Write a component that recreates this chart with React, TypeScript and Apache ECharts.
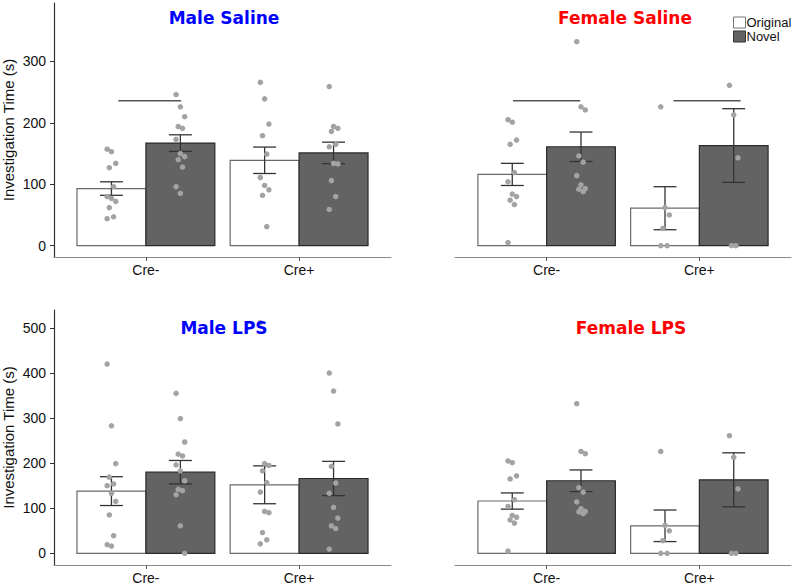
import React, { useEffect, useRef } from 'react';
import * as echarts from 'echarts';

const categories = ['Cre-', 'Cre+'];
const groupNames = ['Original', 'Novel'];
const panelTitles = ['Male Saline', 'Female Saline', 'Male LPS', 'Female LPS'];
const topTicks = [0, 100, 200, 300];
const bottomTicks = [0, 100, 200, 300, 400, 500];

// means [Cre-, Cre+]
const maleSalineOrigMean = [93, 139];
const maleSalineNovelMean = [167, 151];
const maleSalineOrigSE = [11, 21.5];
const maleSalineNovelSE = [13.5, 17.5];

const femaleOrigMean = [116, 61];
const femaleNovelMean = [161, 163];
const femaleOrigSE = [18, 35];
const femaleNovelSE = [24, 60];

const maleLpsOrigMean = [138, 152];
const maleLpsNovelMean = [180, 166];
const maleLpsOrigSE = [32, 42];
const maleLpsNovelSE = [26, 38];

// individual points
const maleSalineOrigCreMinus = [157, 153, 134, 127, 96, 80, 77, 72, 62, 47, 44];
const maleSalineNovelCreMinus = [246, 226, 210, 194, 191, 173, 150, 145, 140, 128, 96, 85];
const maleSalineOrigCrePlus = [266, 239, 198, 179, 149, 111, 98, 91, 82, 31];
const maleSalineNovelCrePlus = [259, 194, 191, 186, 165, 161, 134, 133, 106, 80, 59];

const femaleOrigCreMinus = [205, 201, 172, 165, 119, 104, 84, 80, 74, 67, 5];
const femaleNovelCreMinus = [332, 226, 221, 146, 136, 114, 99, 93, 92, 88];
const femaleOrigCrePlus = [226, 62, 50, 28, 0, 0];
const femaleNovelCrePlus = [261, 213, 143, 0, 0];

const maleLpsOrigCreMinus = [420, 283, 199, 169, 154, 150, 133, 115, 85, 39, 19, 16];
const maleLpsNovelCreMinus = [355, 299, 247, 220, 216, 196, 183, 161, 142, 139, 130, 61, 0];
const maleLpsOrigCrePlus = [512, 199, 195, 183, 157, 136, 93, 90, 46, 30, 21];
const maleLpsNovelCrePlus = [400, 360, 287, 193, 156, 133, 102, 78, 61, 55, 9];

// significance brackets: [from, to, value]
const maleSalineSig = [[0.82, 1.23, 236]];
const femaleSalineSig = [[0.78, 1.22, 236], [1.83, 2.27, 236]];

const FONT = "'Liberation Sans', Arial, sans-serif";

type Panel = {
  title: string;
  titleColor: string;
  origMean: number[];
  novelMean: number[];
  origSE: number[];
  novelSE: number[];
  points: number[][][]; // [group][cat][values]
  sig: number[][];
  showY: boolean;
};

const panels: Panel[] = [
  {
    title: panelTitles[0], titleColor: '#0000ff',
    origMean: maleSalineOrigMean, novelMean: maleSalineNovelMean,
    origSE: maleSalineOrigSE, novelSE: maleSalineNovelSE,
    points: [[maleSalineOrigCreMinus, maleSalineOrigCrePlus], [maleSalineNovelCreMinus, maleSalineNovelCrePlus]],
    sig: maleSalineSig, showY: true,
  },
  {
    title: panelTitles[1], titleColor: '#ff0000',
    origMean: femaleOrigMean, novelMean: femaleNovelMean,
    origSE: femaleOrigSE, novelSE: femaleNovelSE,
    points: [[femaleOrigCreMinus, femaleOrigCrePlus], [femaleNovelCreMinus, femaleNovelCrePlus]],
    sig: femaleSalineSig, showY: false,
  },
  {
    title: panelTitles[2], titleColor: '#0000ff',
    origMean: maleLpsOrigMean, novelMean: maleLpsNovelMean,
    origSE: maleLpsOrigSE, novelSE: maleLpsNovelSE,
    points: [[maleLpsOrigCreMinus, maleLpsOrigCrePlus], [maleLpsNovelCreMinus, maleLpsNovelCrePlus]],
    sig: [], showY: true,
  },
  {
    title: panelTitles[3], titleColor: '#ff0000',
    origMean: femaleOrigMean, novelMean: femaleNovelMean,
    origSE: femaleOrigSE, novelSE: femaleNovelSE,
    points: [[femaleOrigCreMinus, femaleOrigCrePlus], [femaleNovelCreMinus, femaleNovelCrePlus]],
    sig: [], showY: false,
  },
];

const grids = [
  { left: 53, top: 3, width: 338, height: 254 },
  { left: 455, top: 3, width: 336, height: 254 },
  { left: 53, top: 310, width: 338, height: 255 },
  { left: 455, top: 310, width: 336, height: 255 },
];
const titlePos = [
  [224, 9], [625, 9], [224, 319], [631, 319],
];

const DODGE = 0.225;
const HALF_BAR = 0.225;
const CAP = 0.075;

function jitter(i: number) {
  return (((i * 7) % 5) - 2) * 0.014;
}

export default function App() {
  const ref = useRef<HTMLDivElement>(null);
  useEffect(() => {
    if (!ref.current) return;
    const chart = echarts.init(ref.current, null, { renderer: 'svg' });

    const xAxes: any[] = [];
    const yAxes: any[] = [];
    const series: any[] = [];
    const graphics: any[] = [];

    panels.forEach((p, pi) => {
      const top = pi < 2;
      xAxes.push({
        type: 'value', gridIndex: pi, min: 0.4, max: 2.6,
        axisLine: { show: true, onZero: false, lineStyle: { color: '#8a8a8a', width: 1.2 } },
        axisTick: { show: true, length: 4, customValues: [1, 2], lineStyle: { color: '#555' } },
        axisLabel: {
          customValues: [1, 2], margin: 6, fontSize: 14, color: '#111', fontFamily: FONT,
          formatter: (v: number) => categories[Math.round(v) - 1] ?? '',
        },
        splitLine: { show: false },
      });
      yAxes.push({
        type: 'value', gridIndex: pi,
        min: top ? -18.4 : -26, max: top ? 395 : 540,
        show: p.showY,
        name: p.showY ? 'Investigation Time (s)' : '',
        nameLocation: 'middle', nameGap: 38,
        nameTextStyle: { fontSize: 15, color: '#111', fontFamily: FONT },
        axisLine: { show: true, onZero: false, lineStyle: { color: '#333', width: 1.2 } },
        axisTick: { show: true, length: 4, customValues: top ? topTicks : bottomTicks, lineStyle: { color: '#333' } },
        axisLabel: { customValues: top ? topTicks : bottomTicks, margin: 8, fontSize: 14, color: '#111', fontFamily: FONT },
        splitLine: { show: false },
      });

      const means = [p.origMean, p.novelMean];
      const ses = [p.origSE, p.novelSE];
      groupNames.forEach((g, gi) => {
        const off = gi === 0 ? -DODGE : DODGE;
        const fill = gi === 0 ? '#ffffff' : '#636363';
        const stroke = gi === 0 ? '#6a6a6a' : '#2a2a2a';
        series.push({
          type: 'custom', name: g, xAxisIndex: pi, yAxisIndex: pi, z: 2,
          itemStyle: { color: fill, borderColor: stroke },
          data: categories.map((_, ci) => [ci + 1 + off, means[gi][ci]]),
          encode: { x: 0, y: 1 },
          renderItem: (params: any, api: any) => {
            const x = api.value(0), y = api.value(1);
            const a = api.coord([x - HALF_BAR, y]);
            const b = api.coord([x + HALF_BAR, 0]);
            return {
              type: 'rect',
              shape: { x: a[0], y: a[1], width: b[0] - a[0], height: b[1] - a[1] },
              style: { fill, stroke, lineWidth: 1.2 },
            };
          },
        });
        // error bars
        series.push({
          type: 'custom', name: g + ' SE', xAxisIndex: pi, yAxisIndex: pi, z: 3,
          data: categories.map((_, ci) => [ci + 1 + off, means[gi][ci] - ses[gi][ci], means[gi][ci] + ses[gi][ci]]),
          encode: { x: 0, y: [1, 2] },
          renderItem: (params: any, api: any) => {
            const x = api.value(0);
            const lo = api.coord([x, api.value(1)]);
            const hi = api.coord([x, api.value(2)]);
            const l1 = api.coord([x - CAP, api.value(1)]);
            const r1 = api.coord([x + CAP, api.value(1)]);
            const l2 = api.coord([x - CAP, api.value(2)]);
            const r2 = api.coord([x + CAP, api.value(2)]);
            const st = { stroke: '#333', lineWidth: 1.3 };
            return {
              type: 'group',
              children: [
                { type: 'line', shape: { x1: lo[0], y1: lo[1], x2: hi[0], y2: hi[1] }, style: st },
                { type: 'line', shape: { x1: l1[0], y1: l1[1], x2: r1[0], y2: r1[1] }, style: st },
                { type: 'line', shape: { x1: l2[0], y1: l2[1], x2: r2[0], y2: r2[1] }, style: st },
              ],
            };
          },
        });
        // points
        const pts: number[][] = [];
        categories.forEach((_, ci) => {
          p.points[gi][ci].forEach((v, i) => pts.push([ci + 1 + off + jitter(i), v]));
        });
        series.push({
          type: 'scatter', name: g + ' pts', xAxisIndex: pi, yAxisIndex: pi, z: 4,
          symbol: 'circle', symbolSize: 5.5,
          itemStyle: { color: '#a3a3a3', opacity: 1 },
          data: pts,
        });
      });

      if (p.sig.length) {
        series.push({
          type: 'custom', name: 'sig', xAxisIndex: pi, yAxisIndex: pi, z: 5,
          data: p.sig,
          encode: { x: [0, 1], y: 2 },
          renderItem: (params: any, api: any) => {
            const a = api.coord([api.value(0), api.value(2)]);
            const b = api.coord([api.value(1), api.value(2)]);
            return {
              type: 'line',
              shape: { x1: a[0], y1: a[1], x2: b[0], y2: b[1] },
              style: { stroke: '#555', lineWidth: 1.6 },
            };
          },
        });
      }

      graphics.push({
        type: 'text', x: titlePos[pi][0], y: titlePos[pi][1], z: 10,
        style: {
          text: p.title, fill: p.titleColor, align: 'center', verticalAlign: 'top',
          font: "bold 17px 'DejaVu Sans', Verdana, sans-serif",
        },
      });
    });

    chart.setOption({
      animation: false,
      backgroundColor: '#ffffff',
      textStyle: { fontFamily: FONT },
      grid: grids.map((g) => ({ ...g, containLabel: false })),
      xAxis: xAxes,
      yAxis: yAxes,
      series,
      graphic: graphics,
      legend: {
        left: 733, top: 16, orient: 'vertical', padding: 0,
        itemWidth: 12, itemHeight: 11, itemGap: 1, icon: 'rect',
        textStyle: { fontSize: 13, color: '#111', fontFamily: FONT, padding: [0, 0, 0, -4] },
        data: [
          { name: 'Original', itemStyle: { color: '#ffffff', borderColor: '#777', borderWidth: 1 } },
          { name: 'Novel', itemStyle: { color: '#636363', borderColor: '#333', borderWidth: 1 } },
        ],
        selectedMode: false,
      },
    });
    return () => chart.dispose();
  }, []);
  return <div ref={ref} style={{ position: 'fixed', left: 0, top: 0, width: 800, height: 588 }} />;
}
